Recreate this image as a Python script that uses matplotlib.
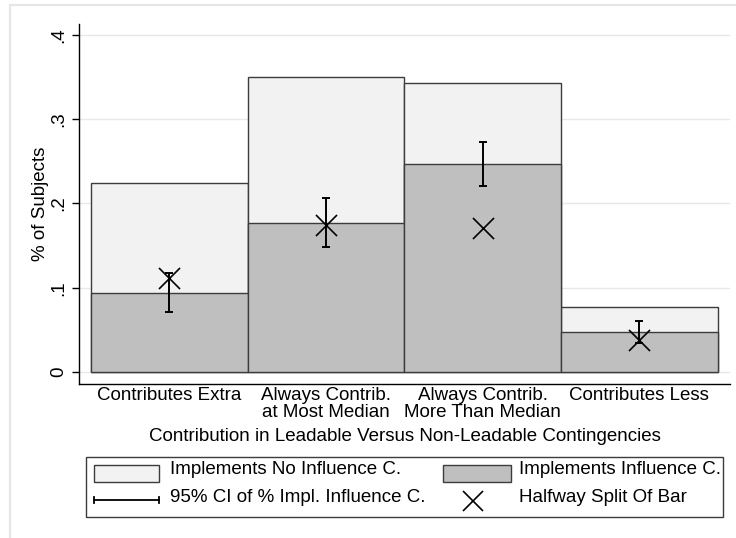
import matplotlib
matplotlib.use("Agg")
import matplotlib.pyplot as plt
from matplotlib.patches import Rectangle
from matplotlib.lines import Line2D
import numpy as np

plt.rcParams['font.family'] = ['Liberation Sans', 'DejaVu Sans']

categories = ["Contributes Extra", "Always Contrib.\nat Most Median",
              "Always Contrib.\nMore Than Median", "Contributes Less"]
total_share = [0.224, 0.350, 0.343, 0.077]       # whole bar
influence_share = [0.0935, 0.177, 0.2465, 0.047]  # implements influence C.
ci_low = [0.071, 0.148, 0.221, 0.035]
ci_high = [0.117, 0.207, 0.273, 0.061]
yticks = [0, 0.1, 0.2, 0.3, 0.4]
ytick_labels = ["0", ".1", ".2", ".3", ".4"]

W, H = 736, 538
fig = plt.figure(figsize=(W / 100, H / 100), dpi=100)

def fx(px):
    return px / W

def fy(py):
    return 1 - py / H

# outer graph-region border (light gray)
fig.add_artist(Rectangle((fx(10), fy(545)), fx(740) - fx(10), fy(5) - fy(545),
                         transform=fig.transFigure, fill=False,
                         edgecolor='#e6e6e6', lw=1.6))

ax = fig.add_axes([fx(79), fy(384), fx(730) - fx(79), fy(24) - fy(384)])

light = '#f2f2f2'
dark = '#bfbfbf'
edge = '#3c3c3c'
fs = 13.5

x = np.arange(1, len(categories) + 1)
tot = np.array(total_share)
inf = np.array(influence_share)
lo = np.array(ci_low)
hi = np.array(ci_high)

ax.bar(x, tot, width=1.0, color=light, edgecolor=edge, lw=1.0, zorder=2)
ax.bar(x, inf, width=1.0, color=dark, edgecolor=edge, lw=1.0, zorder=3)
ax.errorbar(x, inf, yerr=[inf - lo, hi - inf], fmt='none', ecolor='black',
            elinewidth=1.4, capsize=3.0, capthick=1.4, zorder=4)
ax.scatter(x, tot / 2, marker='x', s=230, color='black', linewidths=1.2, zorder=5)

ax.set_xlim(0.424, 4.579)
ax.set_ylim(-0.0142, 0.413)
ax.set_yticks(yticks)
ax.set_yticklabels(ytick_labels, rotation=90, va='center', fontsize=fs)
ax.set_xticks(x)
ax.set_xticklabels(categories, fontsize=fs)
for lbl in ax.get_xticklabels():
    lbl.set_linespacing(0.98)
ax.tick_params(axis='x', length=0, pad=2.5)
ax.tick_params(axis='y', length=5, width=1.0, pad=3.5, color='black')

ax.grid(axis='y', color='#e8e8e8', lw=1.0, zorder=0)
ax.set_axisbelow(True)
for s in ['top', 'right']:
    ax.spines[s].set_visible(False)
ax.spines['left'].set_color('black')
ax.spines['bottom'].set_color('black')
ax.spines['left'].set_linewidth(1.0)
ax.spines['bottom'].set_linewidth(1.0)

ax.set_ylabel("% of Subjects", fontsize=fs)
ax.yaxis.set_label_coords(-0.046, 0.5)
ax.yaxis.label.set_va('bottom')

ax.set_xlabel("Contribution in Leadable Versus Non-Leadable Contingencies", fontsize=fs)
ax.xaxis.set_label_coords(0.5, (384 - 441.0) / 360)
ax.xaxis.label.set_va('baseline')

# legend (drawn manually to match layout)
fig.add_artist(Rectangle((fx(86), fy(517)), fx(723) - fx(86), fy(457) - fy(517),
                         transform=fig.transFigure, fill=True, facecolor='white',
                         edgecolor=edge, lw=1.0))
fig.add_artist(Rectangle((fx(94), fy(482)), fx(159) - fx(94), fy(465) - fy(482),
                         transform=fig.transFigure, facecolor=light,
                         edgecolor=edge, lw=1.0))
fig.add_artist(Rectangle((fx(443), fy(482)), fx(511) - fx(443), fy(465) - fy(482),
                         transform=fig.transFigure, facecolor=dark,
                         edgecolor=edge, lw=1.0))
fig.add_artist(Line2D([fx(94), fx(159)], [fy(500), fy(500)], transform=fig.transFigure,
                      color='black', lw=1.3))
for px in (94, 159):
    fig.add_artist(Line2D([fx(px), fx(px)], [fy(497), fy(503)], transform=fig.transFigure,
                          color='black', lw=1.3))
fig.add_artist(Line2D([fx(473)], [fy(501)], transform=fig.transFigure, marker='x',
                      markersize=15, markeredgewidth=1.2, color='black', linestyle='none'))
fig.text(fx(170), fy(474), "Implements No Influence C.", fontsize=fs, va='baseline')
fig.text(fx(519), fy(474), "Implements Influence C.", fontsize=fs, va='baseline')
fig.text(fx(170), fy(502), "95% CI of % Impl. Influence C.", fontsize=fs, va='baseline')
fig.text(fx(519), fy(502), "Halfway Split Of Bar", fontsize=fs, va='baseline')

fig.savefig("out.png", dpi=100, facecolor='white')
